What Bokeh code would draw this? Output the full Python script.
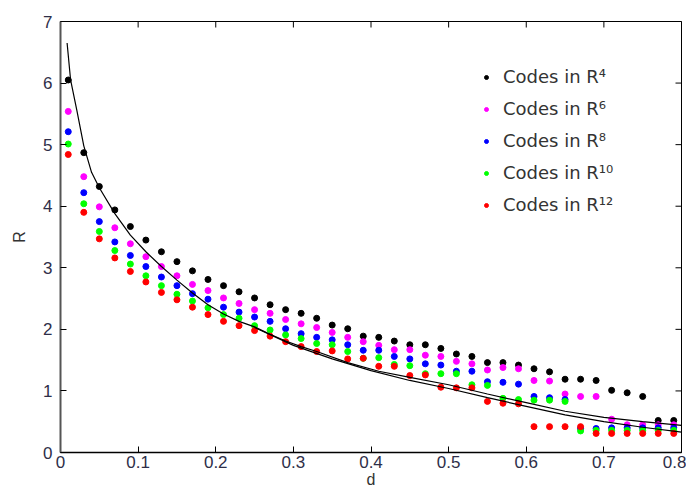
import math
from bokeh.plotting import figure
from bokeh.models import FixedTicker, Range1d
from bokeh.embed import file_html
from bokeh.resources import INLINE

# ---- data ----
d_vals = [0.01, 0.03, 0.05, 0.07, 0.09, 0.11, 0.13, 0.15, 0.17, 0.19,
          0.21, 0.23, 0.25, 0.27, 0.29, 0.31, 0.33, 0.35, 0.37, 0.39,
          0.41, 0.43, 0.45, 0.47, 0.49, 0.51, 0.53, 0.55, 0.57, 0.59,
          0.61, 0.63, 0.65, 0.67, 0.69, 0.71, 0.73, 0.75, 0.77, 0.79]

r4 = [6.05, 4.87, 4.32, 3.94, 3.67, 3.45, 3.26, 3.10, 2.95, 2.81,
      2.71, 2.61, 2.51, 2.40, 2.32, 2.26, 2.18, 2.07, 2.01, 1.89,
      1.87, 1.81, 1.75, 1.75, 1.69, 1.60, 1.56, 1.46, 1.46, 1.42,
      1.36, 1.31, 1.19, 1.19, 1.17, 1.01, 0.97, 0.91, 0.52, 0.52]

r6 = [5.54, 4.48, 3.99, 3.65, 3.39, 3.18, 3.02, 2.87, 2.73, 2.63,
      2.51, 2.42, 2.32, 2.26, 2.16, 2.09, 2.03, 1.95, 1.87, 1.80,
      1.74, 1.67, 1.67, 1.58, 1.56, 1.48, 1.44, 1.34, 1.38, 1.36,
      1.17, 1.16, 0.95, 0.91, 0.91, 0.54, 0.45, 0.45, 0.45, 0.45]

r8 = [5.21, 4.22, 3.75, 3.42, 3.20, 3.02, 2.85, 2.71, 2.58, 2.49,
      2.36, 2.28, 2.20, 2.13, 2.01, 1.93, 1.87, 1.83, 1.75, 1.66,
      1.66, 1.56, 1.52, 1.44, 1.42, 1.32, 1.32, 1.15, 1.14, 1.11,
      0.91, 0.89, 0.86, 0.39, 0.39, 0.40, 0.40, 0.40, 0.40, 0.40]

r10 = [5.01, 4.04, 3.59, 3.28, 3.06, 2.87, 2.71, 2.57, 2.46, 2.35,
       2.24, 2.18, 2.06, 1.99, 1.91, 1.85, 1.77, 1.75, 1.64, 1.53,
       1.54, 1.43, 1.41, 1.28, 1.28, 1.28, 1.10, 1.09, 0.88, 0.86,
       0.85, 0.85, 0.83, 0.35, 0.36, 0.36, 0.36, 0.36, 0.36, 0.36]

r12 = [4.84, 3.90, 3.47, 3.16, 2.94, 2.77, 2.60, 2.48, 2.36, 2.24,
       2.13, 2.06, 1.98, 1.89, 1.80, 1.72, 1.64, 1.65, 1.52, 1.53,
       1.40, 1.40, 1.25, 1.26, 1.06, 1.05, 1.05, 0.83, 0.80, 0.79,
       0.42, 0.42, 0.42, 0.42, 0.31, 0.31, 0.31, 0.31, 0.31, 0.31]

bound_d = [0.0085, 0.013, 0.021, 0.03, 0.04, 0.05, 0.07, 0.09, 0.11, 0.13,
           0.15, 0.17, 0.19, 0.21, 0.23, 0.25, 0.27, 0.29, 0.31, 0.33,
           0.37, 0.41, 0.45, 0.50, 0.55, 0.60, 0.65, 0.70, 0.75, 0.80]
bound_r = [6.65, 6.05, 5.56, 4.98, 4.55, 4.30, 3.88, 3.53, 3.26, 3.02,
           2.80, 2.59, 2.40, 2.25, 2.13, 2.04, 1.92, 1.81, 1.72, 1.64,
           1.46, 1.32, 1.22, 1.10, 0.95, 0.81, 0.67, 0.57, 0.50, 0.44]

bound2_d = [0.25, 0.30, 0.35, 0.40, 0.45, 0.50, 0.55, 0.60, 0.65, 0.70, 0.75, 0.80]
bound2_r = [2.03, 1.74, 1.52, 1.33, 1.17, 1.04, 0.89, 0.75, 0.61, 0.50, 0.41, 0.33]

series = [
    ("Codes in R\u2074", r4, "black"),
    ("Codes in R\u2076", r6, "#ff00ff"),
    ("Codes in R\u2078", r8, "#0000ff"),
    ("Codes in R\u00b9\u2070", r10, "#00ff00"),
    ("Codes in R\u00b9\u00b2", r12, "#ff0000"),
]

x_ticks = [0, 0.1, 0.2, 0.3, 0.4, 0.5, 0.6, 0.7, 0.8]
y_ticks = [0, 1, 2, 3, 4, 5, 6, 7]
x_min, x_max = 0, 0.8
y_min, y_max = 0, 7

# ---- figure ----
p = figure(width=686, height=490, output_backend="svg", toolbar_location=None,
           x_range=Range1d(x_min, x_max), y_range=Range1d(y_min, y_max),
           min_border_left=60, min_border_top=21, min_border_right=5, min_border_bottom=30)
p.background_fill_color = "white"
p.border_fill_color = "white"
p.grid.visible = False
p.outline_line_color = "black"
p.outline_line_width = 1

tick_color = "#2e2e48"
for ax in (p.xaxis[0], p.yaxis[0]):
    ax.major_tick_in = 6
    ax.major_tick_out = 0
    ax.minor_tick_in = 0
    ax.minor_tick_out = 0
    ax.major_label_text_font = "Liberation Sans"
    ax.major_label_text_font_size = "17px"
    ax.major_label_text_color = tick_color
    ax.axis_label_text_font = "Liberation Sans"
    ax.axis_label_text_font_size = "16px"
    ax.axis_label_text_font_style = "normal"
    ax.axis_label_text_color = "#333333"
p.xaxis[0].ticker = FixedTicker(ticks=x_ticks)
p.yaxis[0].ticker = FixedTicker(ticks=y_ticks)
p.xaxis[0].axis_label = "d"
p.yaxis[0].axis_label = "R"
p.xaxis[0].axis_line_color = "black"
p.xaxis[0].axis_line_width = 1.5
p.yaxis[0].axis_line_color = "#555555"
p.yaxis[0].axis_line_width = 2
p.xaxis[0].major_label_standoff = 3
p.xaxis[0].axis_label_standoff = 0
p.yaxis[0].major_label_standoff = 8
p.yaxis[0].axis_label_standoff = 12

# inward ticks on the top and right edges of the box
p.scatter(x_ticks, [y_max] * len(x_ticks), marker="dash", angle=math.pi / 2, size=12,
          line_color="black", line_width=1)
p.scatter([x_max] * len(y_ticks), y_ticks, marker="dash", size=12,
          line_color="black", line_width=1)

for label, vals, color in series:
    p.scatter(d_vals, vals, size=6, marker="circle", fill_color=color, line_color=color,
              legend_label=label)

p.line(bound_d, bound_r, line_color="black", line_width=1.2)
p.line(bound2_d, bound2_r, line_color="black", line_width=1.2)

lg = p.legend[0]
lg.location = (416, 232)
lg.border_line_alpha = 0
lg.background_fill_alpha = 0
lg.label_text_font = "DejaVu Sans"
lg.label_text_font_size = "18px"
lg.label_text_color = "#333333"
lg.glyph_width = 10
lg.glyph_height = 20
lg.label_height = 20
lg.spacing = 11
lg.padding = 5
lg.margin = 0
lg.label_standoff = 12

open("out.html", "w").write(file_html(p, INLINE))
